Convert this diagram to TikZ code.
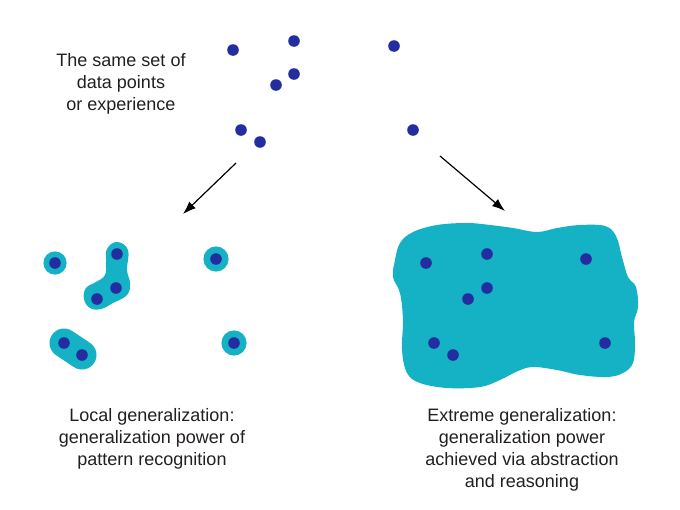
\documentclass[tikz,border=0pt]{standalone}
\usepackage{fontspec}
\setmainfont{Liberation Sans}
\usepackage{tikz}
\usetikzlibrary{arrows.meta,positioning,backgrounds}
\definecolor{genPoint}{HTML}{232DA0}
\definecolor{genCover}{HTML}{15B1C4}
\definecolor{genText}{HTML}{231F20}
\tikzset{
    genDot/.style={
        circle,
        fill=genPoint,
        inner sep=0pt,
        minimum size=5.8pt
    },
    genCaption/.style={
        font=\fontsize{9}{11}\selectfont,
        text=genText,
        align=center,
        inner sep=0pt
    },
    % Coverage around points
    genHalo/.style={fill=genCover},
    genBlob/.style={line width=12.5pt, draw=genCover, line cap=round, line join=round},
    % Arrows
    genArrow/.style={-{Latex[length=6.5pt,width=4.6pt]}, line width=0.6pt, draw=black}
}
\begin{document}
\begin{tikzpicture}[x=0.5pt, y=-0.5pt]
    \useasboundingbox (0,0) rectangle (680,509);

    % The raw data points
    \node[genDot] (p1) at (233,50) {};
    \node[genDot] (p2) at (294,41) {};
    \node[genDot] (p3) at (294,74) {};
    \node[genDot] (p4) at (276,85) {};
    \node[genDot] (p5) at (394,46) {};
    \node[genDot] (p6) at (241,130) {};
    \node[genDot] (p7) at (260,142) {};
    \node[genDot] (p8) at (413,130) {};

    \node[genCaption] (source) at (121,84) {The same set of\\data points\\or experience};

    % Local generalization
    \node[genDot] (l1) at (55,263) {};
    \node[genDot] (l2) at (117,254) {};
    \node[genDot] (l3) at (116,288) {};
    \node[genDot] (l4) at (97,299) {};
    \node[genDot] (l5) at (216,259) {};
    \node[genDot] (l6) at (64,343) {};
    \node[genDot] (l7) at (82,355) {};
    \node[genDot] (l8) at (234,343) {};

    \begin{scope}[on background layer]
        \fill[genHalo] (l1) circle[radius=5.8pt];
        \fill[genHalo] (l5) circle[radius=6.3pt];
        \fill[genHalo] (l8) circle[radius=6.3pt];
        \fill[genHalo] plot[smooth cycle, tension=0.7] coordinates {
            (117,242) (128,250) (127,270) (130,283) (127,295) (113,303)
            (101,309) (90,308) (84,299) (86,288) (96,282) (105,275)
            (106,262) (107,249)};
        \draw[genBlob, line width=14.5pt] (l6.center) -- (l7.center);
    \end{scope}

    \node[genCaption] (localText) at (152,439) {Local generalization:\\generalization power of\\pattern recognition};

    % Extreme generalization
    \node[genDot] (r1) at (426,263) {};
    \node[genDot] (r2) at (487,254) {};
    \node[genDot] (r3) at (487,288) {};
    \node[genDot] (r4) at (468,299) {};
    \node[genDot] (r5) at (586,259) {};
    \node[genDot] (r6) at (434,343) {};
    \node[genDot] (r7) at (453,355) {};
    \node[genDot] (r8) at (605,343) {};

    \begin{scope}[on background layer]
        \fill[genHalo] plot[smooth cycle, tension=0.6] coordinates {
            (395,260) (400,243) (413,232) (437,225) (467,223) (490,225)
            (513,228) (537,232) (557,228) (580,225) (605,226) (616,236)
            (622,257) (628,277) (636,287) (638,307) (634,322) (635,343)
            (633,363) (623,373) (607,377) (580,375) (557,370) (533,367)
            (518,371) (500,380) (480,387) (447,388) (420,383) (407,373)
            (402,350) (403,320) (400,293) (393,277)};
    \end{scope}

    \node[genCaption] (extremeText) at (522,450) {Extreme generalization:\\generalization power\\achieved via abstraction\\and reasoning};

    % Arrows from the data to each view
    \coordinate (leftFrom) at (236,163);
    \coordinate (leftTo) at (183,214);
    \coordinate (rightFrom) at (440,156);
    \coordinate (rightTo) at (505,211);
    \draw[genArrow] (leftFrom) -- (leftTo);
    \draw[genArrow] (rightFrom) -- (rightTo);
\end{tikzpicture}
\end{document}
